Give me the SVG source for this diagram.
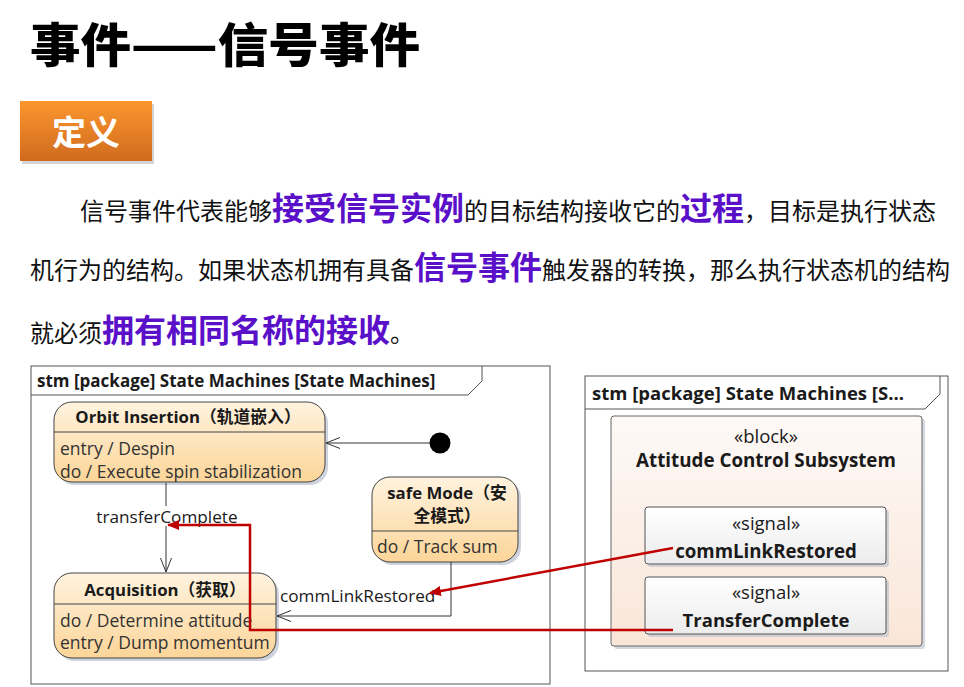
<svg xmlns="http://www.w3.org/2000/svg" width="964" height="687" viewBox="0 0 964 687">
<defs>
<linearGradient id="gOrange" x1="0" y1="0" x2="0" y2="1"><stop offset="0" stop-color="#fb962e"/><stop offset="1" stop-color="#d06b1f"/></linearGradient>
<linearGradient id="gState" x1="0" y1="0" x2="0" y2="1"><stop offset="0" stop-color="#fff3df"/><stop offset="1" stop-color="#fcd598"/></linearGradient>
<linearGradient id="gBlock" x1="0" y1="0" x2="0" y2="1"><stop offset="0" stop-color="#fdf9f7"/><stop offset="1" stop-color="#fae6d8"/></linearGradient>
<linearGradient id="gSignal" x1="0" y1="0" x2="0" y2="1"><stop offset="0" stop-color="#ffffff"/><stop offset="1" stop-color="#ececec"/></linearGradient>
<marker id="openArrow" viewBox="0 0 16 12" refX="15" refY="6" markerWidth="16" markerHeight="12" markerUnits="userSpaceOnUse" orient="auto">
<path d="M1,0.5 L15,6 L1,11.5" fill="none" stroke="#333" stroke-width="1"/>
</marker>
<marker id="redArrow" viewBox="0 0 12 10" refX="11" refY="5" markerWidth="12" markerHeight="10" markerUnits="userSpaceOnUse" orient="auto">
<path d="M0,0 L12,5 L0,10 Z" fill="#c00000"/>
</marker>
</defs>
<style>
.cn{font-family:"Noto Sans CJK SC","Noto Sans",sans-serif}
.ui{font-family:"Open Sans","Noto Sans","Noto Sans CJK SC",sans-serif;fill:#1a1a1a}
.b{font-weight:bold}
.st{fill:url(#gState);stroke:#444;stroke-width:1}
.sh{fill:#aeb6c6;opacity:0.6}
.frame{fill:#fff;stroke:#555;stroke-width:1}
.tr{fill:none;stroke:#333;stroke-width:1}
.red{fill:none;stroke:#c00000;stroke-width:2.5}
.purple{fill:#5a10c8;font-weight:bold;font-size:32px}
.act{font-size:17.5px;fill:#333}
.stt{font-size:16.8px;font-weight:bold}
</style>

<g id="title">
<text x="30" y="62" class="cn" font-size="47" font-weight="900" fill="#000" textLength="390" lengthAdjust="spacingAndGlyphs">事件——信号事件</text>
</g>

<g id="badge">
<rect x="22" y="104" width="132" height="60" fill="#b8b8b8" opacity="0.6"/>
<rect x="20" y="101" width="132" height="60" fill="url(#gOrange)"/>
<text x="86" y="145" class="cn" font-size="34" font-weight="bold" fill="#fff" text-anchor="middle">定义</text>
</g>

<g id="paragraph" class="cn" font-size="24" fill="#111">
<text x="80" y="220">信号事件代表能够<tspan class="purple">接受信号实例</tspan>的目标结构接收它的<tspan class="purple">过程</tspan>，目标是执行状态</text>
<text x="30" y="279">机行为的结构。如果状态机拥有具备<tspan class="purple">信号事件</tspan>触发器的转换，那么执行状态机的结构</text>
<text x="30" y="342">就必须<tspan class="purple">拥有相同名称的接收</tspan>。</text>
</g>

<g id="frameLeft">
<rect x="31" y="366" width="519" height="318" class="frame"/>
<path d="M31,395 H468 L482,381 V366" fill="none" stroke="#555" stroke-width="1"/>
<text x="37" y="387" class="ui b" font-size="17">stm [package] State Machines [State Machines]</text>
</g>

<g id="frameRight">
<rect x="585" y="376" width="363" height="295" class="frame"/>
<path d="M585,409 H925 L940,394 V376" fill="none" stroke="#555" stroke-width="1"/>
<text x="592" y="400" class="ui b" font-size="18.5">stm [package] State Machines [S...</text>
</g>

<g id="orbitInsertion">
<rect x="57" y="405" width="271" height="80" rx="18" class="sh"/>
<rect x="54" y="402" width="271" height="80" rx="18" class="st"/>
<line x1="54" y1="432" x2="325" y2="432" stroke="#444" stroke-width="1"/>
<text x="188" y="423" class="ui stt" text-anchor="middle">Orbit Insertion（轨道嵌入）</text>
<text x="60" y="455" class="ui act">entry / Despin</text>
<text x="60" y="478" class="ui act">do / Execute spin stabilization</text>
</g>

<g id="initial">
<circle cx="440" cy="443" r="10.5" fill="#000"/>
</g>

<g id="safeMode">
<rect x="375" y="480" width="146" height="85" rx="18" class="sh"/>
<rect x="372" y="477" width="146" height="85" rx="18" class="st"/>
<line x1="372" y1="531" x2="518" y2="531" stroke="#444" stroke-width="1"/>
<text x="447" y="499" class="ui stt" text-anchor="middle">safe Mode（安</text>
<text x="447" y="522" class="ui stt" text-anchor="middle">全模式）</text>
<text x="377" y="553" class="ui act">do / Track sum</text>
</g>

<g id="acquisition">
<rect x="57" y="576" width="222" height="85" rx="18" class="sh"/>
<rect x="54" y="573" width="222" height="85" rx="18" class="st"/>
<line x1="54" y1="604" x2="276" y2="604" stroke="#444" stroke-width="1"/>
<text x="165" y="596" class="ui stt" text-anchor="middle">Acquisition（获取）</text>
<text x="60" y="627" class="ui act">do / Determine attitude</text>
<text x="60" y="649" class="ui act">entry / Dump momentum</text>
</g>

<g id="block">
<rect x="614" y="419" width="311" height="230" rx="3" fill="#b8c0cc" opacity="0.6"/>
<rect x="611" y="416" width="311" height="230" rx="3" fill="url(#gBlock)" stroke="#666" stroke-width="1"/>
<text x="766" y="443" class="ui" font-size="18.5" text-anchor="middle">«block»</text>
<text x="766" y="467" class="ui b" font-size="18.8" text-anchor="middle">Attitude Control Subsystem</text>
</g>

<g id="signalCommLinkRestored">
<rect x="648" y="510" width="241" height="57" rx="3" fill="#b8c0cc" opacity="0.6"/>
<rect x="645" y="507" width="241" height="57" rx="3" fill="url(#gSignal)" stroke="#555" stroke-width="1"/>
<text x="766" y="530" class="ui" font-size="18.5" text-anchor="middle">«signal»</text>
<text x="766" y="558" class="ui b" font-size="18.7" text-anchor="middle">commLinkRestored</text>
</g>

<g id="signalTransferComplete">
<rect x="648" y="580" width="241" height="57" rx="3" fill="#b8c0cc" opacity="0.6"/>
<rect x="645" y="577" width="241" height="57" rx="3" fill="url(#gSignal)" stroke="#555" stroke-width="1"/>
<text x="766" y="599" class="ui" font-size="18.5" text-anchor="middle">«signal»</text>
<text x="766" y="627" class="ui b" font-size="18.5" text-anchor="middle">TransferComplete</text>
</g>

<g id="connectors">
<line x1="430" y1="443" x2="326" y2="443" class="tr" marker-end="url(#openArrow)"/>
<line x1="166" y1="483" x2="166" y2="572" class="tr" marker-end="url(#openArrow)"/>
<polyline points="451,562 451,616 277,616" class="tr" marker-end="url(#openArrow)"/>
<rect x="96" y="506" width="142" height="20" fill="#fff"/>
<text x="167" y="523" class="ui" font-size="17.2" text-anchor="middle">transferComplete</text>
<text x="280" y="602" class="ui" font-size="17.2">commLinkRestored</text>
<line x1="673" y1="548" x2="430" y2="593" class="red" marker-end="url(#redArrow)"/>
<polyline points="673,630 250,630 250,525 168,525" class="red" marker-end="url(#redArrow)"/>
</g>
</svg>
